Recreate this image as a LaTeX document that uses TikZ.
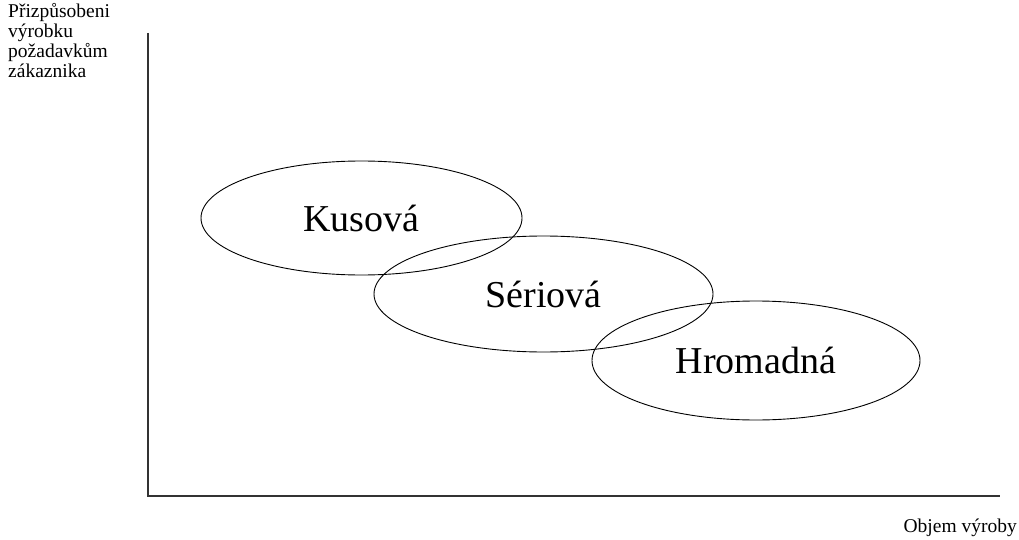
\documentclass[tikz,border=0pt]{standalone}
\usepackage{fontspec}
\setmainfont{Liberation Serif}
\usetikzlibrary{shapes.geometric}
\begin{document}
\begin{tikzpicture}[x=1pt,y=-1pt,
  axisline/.style={line width=1.4pt, black!80},
  zone/.style={ellipse, draw, line width=0.9pt, inner sep=0pt,
    font=\fontsize{38}{40}\selectfont},
  axislabel/.style={font=\fontsize{19.5}{20}\selectfont, inner sep=0pt}]
  \useasboundingbox (0,0) rectangle (1019,540);
  % axes
  \coordinate (ytop) at (148,33);
  \coordinate (xend) at (1000,496);
  \draw[axisline] (ytop) |- (xend);
  % axis titles
  \node[axislabel, anchor=north west, align=left] (ylab) at (8,3)
    {Přizpůsobeni\\výrobku\\požadavkům\\zákaznika};
  \node[axislabel, anchor=base east] (xlab) at (1017,532) {Objem výroby};
  % production types
  \node[zone, minimum width=321pt, minimum height=114pt] (kus) at (361.5,218) {Kusová};
  \node[zone, minimum width=339pt, minimum height=116pt] (ser) at (543.5,294) {Sériová};
  \node[zone, minimum width=328pt, minimum height=119pt] (hrom) at (756,360.5) {Hromadná};
\end{tikzpicture}
\end{document}
